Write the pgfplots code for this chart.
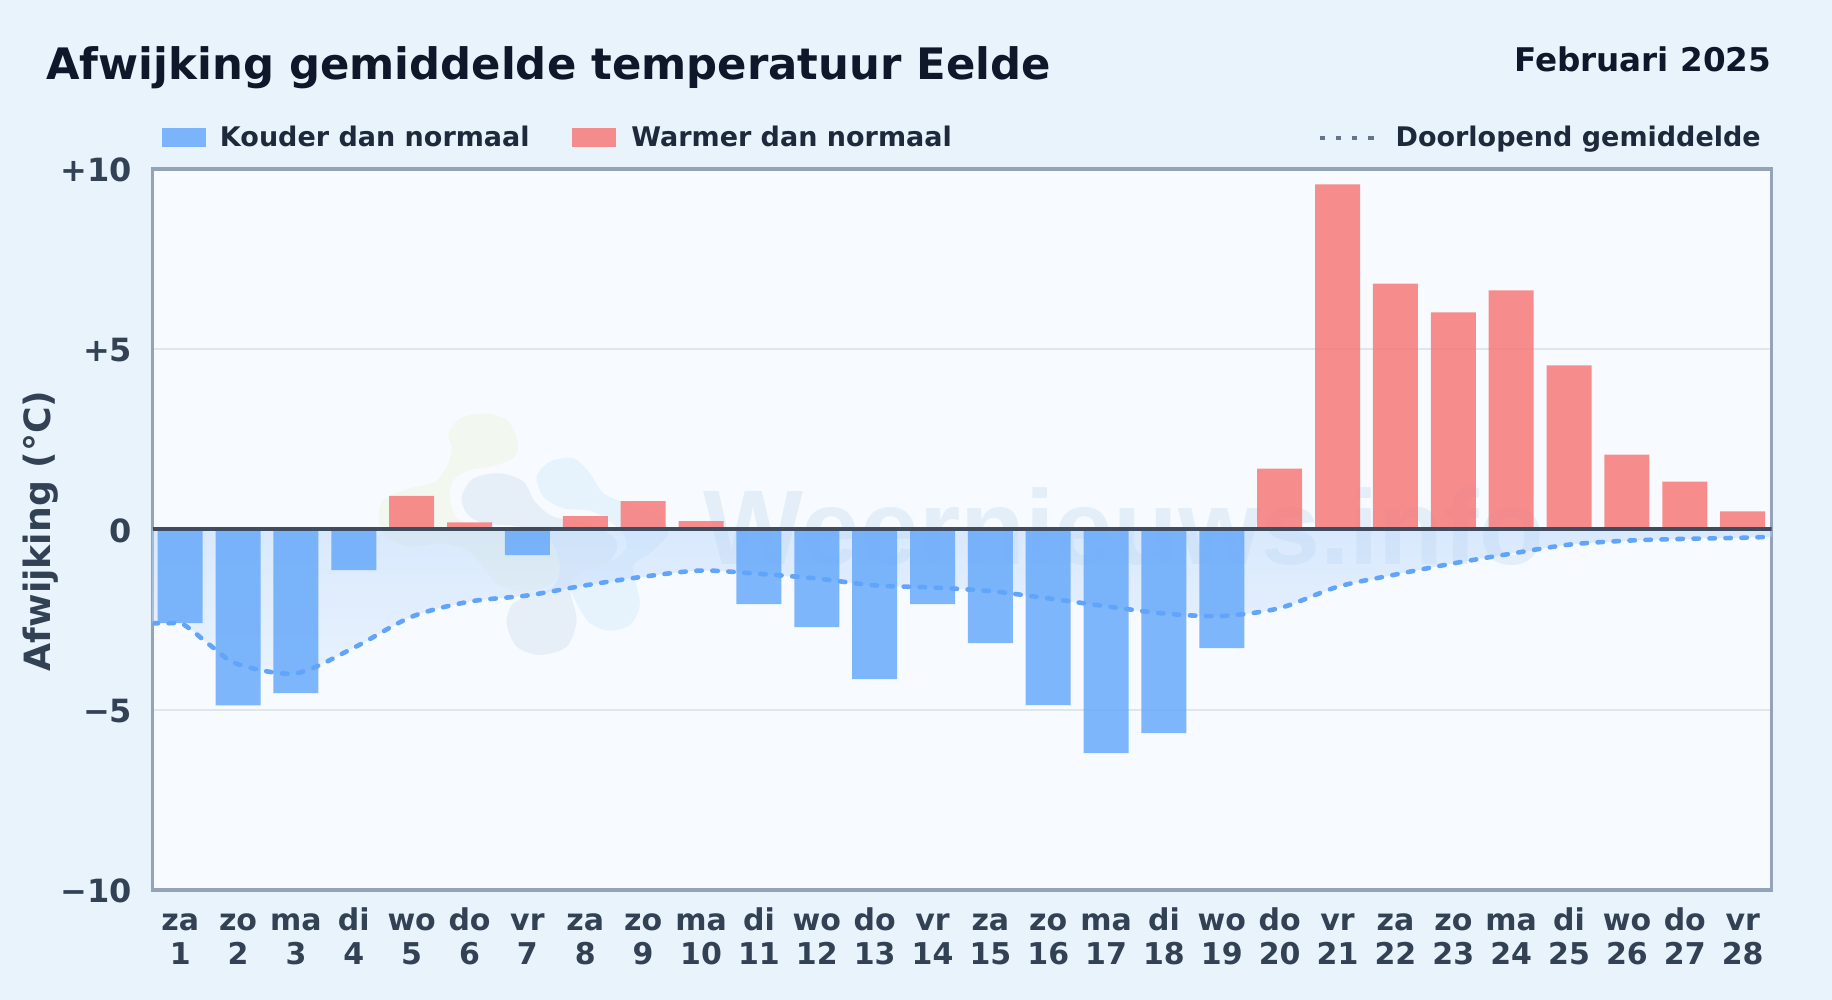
\documentclass[border=0pt]{standalone}
\usepackage{fontspec}
\setmainfont{DejaVu Sans}
\newfontfamily\wmfont{Liberation Sans}
\usepackage{pgfplots}
\pgfplotsset{compat=1.18}
\definecolor{pagebg}{HTML}{E8F3FC}
\definecolor{plotbg}{HTML}{F7FBFF}
\definecolor{frame}{HTML}{94A3B8}
\definecolor{gridc}{HTML}{E0E6EC}
\definecolor{ink}{HTML}{0F172A}
\definecolor{inktwo}{HTML}{1E293B}
\definecolor{slate}{HTML}{334155}
\definecolor{dotgrey}{HTML}{64748B}
\definecolor{coldc}{HTML}{60A5FA}
\definecolor{warmc}{HTML}{F87171}
\definecolor{zeroc}{HTML}{3F4C60}
\definecolor{wmark}{HTML}{E3EEF8}
\definecolor{blobg}{HTML}{F2F8F0}
\definecolor{blobd}{HTML}{E6EFF8}
\definecolor{blobl}{HTML}{E6F3FD}
\definecolor{areatop}{HTML}{B5D4FB}
\definecolor{areabot}{HTML}{D8E8FD}
\newcommand{\fs}[1]{\fontsize{#1}{#1}\selectfont\bfseries}
% day name over day number, first baseline at a fixed height
\newcommand{\tl}[2]{\rule{0pt}{14pt}#1\\\rule{0pt}{14pt}#2}
\begin{document}
\begin{tikzpicture}
  \useasboundingbox (0,0) rectangle (916pt,500pt);
  \fill[pagebg] (0,0) rectangle (916pt,500pt);
  % plot background and the faint logo / watermark, in picture pixels
  \begin{scope}[x=.5pt,y=-.5pt,shift={(0,500pt)}]
    \fill[plotbg] (152.6,169) rectangle (1771.6,890);
    \node[anchor=base west,inner sep=0,text=wmark] at (703,565) {\wmfont\fs{53}Weernieuws.info};
    \node[anchor=base west,inner sep=0,text=ink] at (46,80) {\fs{21.67}Afwijking gemiddelde temperatuur Eelde};
    \node[anchor=base east,inner sep=0,text=ink] at (1771.5,72) {\fs{16.3}Februari 2025};
  \end{scope}
  \begin{scope}[shift={(180pt,305pt)},x=0.16667pt,y=-0.16667pt]
    \fill[blobg] plot[smooth cycle] coordinates {(265,130)(300,85)(370,70)(440,90)(472,150)(465,200)(400,228)(330,240)(280,270)(270,330)(300,390)(400,410)(520,420)(590,470)(610,520)(570,585)(480,605)(410,580)(370,530)(320,480)(240,460)(150,470)(80,440)(55,390)(70,330)(150,295)(225,275)(265,220)(275,170)};
    \fill[blobd] plot[smooth cycle] coordinates {(305,320)(340,265)(420,250)(490,275)(525,335)(580,380)(680,400)(760,440)(770,480)(740,520)(650,560)(630,600)(650,690)(620,770)(540,795)(470,770)(440,700)(460,640)(530,610)(580,590)(600,530)(570,450)(480,410)(370,400)(320,370)};
    \fill[blobl] plot[smooth cycle] coordinates {(530,260)(570,215)(640,205)(690,250)(730,310)(800,340)(900,380)(925,430)(870,490)(820,530)(840,640)(810,705)(750,722)(690,700)(650,640)(630,590)(660,550)(760,510)(800,470)(780,420)(700,365)(610,355)(550,320)};
  \end{scope}
  \begin{axis}[
    at={(76.3pt,55pt)},
    anchor=south west,
    scale only axis,
    width=809.5pt,
    height=360.5pt,
    xmin=0.523,
    xmax=28.5,
    ymin=-10,
    ymax=10,
    axis line style={draw=frame,line width=1.6pt},
    ymajorgrids=true,
    grid style={draw=gridc,line width=0.9pt},
    major tick length=0pt,
    ytick={-10,-5,0,5,10},
    yticklabels={−10,−5,0,+5,+10},
    yticklabel style={font=\fs{16},text=slate,inner sep=0pt,anchor=east,xshift=-10pt,yshift=-0.5pt},
    xtick={1,...,28},
    xticklabels={{\tl{za}{1}},{\tl{zo}{2}},{\tl{ma}{3}},{\tl{di}{4}},{\tl{wo}{5}},{\tl{do}{6}},{\tl{vr}{7}},{\tl{za}{8}},{\tl{zo}{9}},{\tl{ma}{10}},{\tl{di}{11}},{\tl{wo}{12}},{\tl{do}{13}},{\tl{vr}{14}},{\tl{za}{15}},{\tl{zo}{16}},{\tl{ma}{17}},{\tl{di}{18}},{\tl{wo}{19}},{\tl{do}{20}},{\tl{vr}{21}},{\tl{za}{22}},{\tl{zo}{23}},{\tl{ma}{24}},{\tl{di}{25}},{\tl{wo}{26}},{\tl{do}{27}},{\tl{vr}{28}}},
    xticklabel style={font=\fontsize{15}{17}\selectfont\bfseries,text=slate,align=center,inner sep=0pt,yshift=-6pt},
    every axis y label/.style={at={(axis description cs:-0.0693,0.498)},rotate=90,anchor=center},
    ylabel={Afwijking (°C)},
    ylabel style={font=\fs{18.1},text=slate},
    legend columns=3,
    legend style={
      at={(0,1)},anchor=south west,yshift=9.7pt,xshift=4.7pt,
      draw=none,fill=none,inner sep=0pt,outer sep=0pt,
      font=\fs{13.5},text=inktwo,
      nodes={inner sep=0pt,outer sep=0pt},
      /tikz/column 2/.style={column sep=21.3pt},
      /tikz/column 4/.style={column sep=183pt},
      /tikz/column 1/.style={column sep=7pt},
      /tikz/column 3/.style={column sep=7.5pt},
      /tikz/column 5/.style={column sep=8.9pt},
    },
    ]
    % shaded area under the running mean
    \addplot[forget plot,draw=none,smooth,shade,top color=areatop,bottom color=areabot,opacity=0.45] coordinates {
      (0.523,-2.6) (0.8,-2.6) (1,-2.6) (1.18,-2.77) (1.54,-3.24) (2,-3.74) (3,-3.99) (4,-3.28) (5,-2.42) (6,-2.0) (7,-1.83)
      (8,-1.55) (9,-1.31) (10,-1.14) (11,-1.23) (12,-1.36) (13,-1.55) (14,-1.61)
      (15,-1.71) (16,-1.91) (17,-2.13) (18,-2.33) (19,-2.40) (20,-2.18) (21,-1.59)
      (22,-1.25) (23,-0.94) (24,-0.67) (25,-0.42) (26,-0.31) (27,-0.26) (28,-0.23) (28.5,-0.2)
    } \closedcycle;
    % colder days
    \addplot[ybar,bar shift=0pt,bar width=22.5pt,draw=none,fill=coldc,fill opacity=0.8,
      legend image code/.code={\fill[coldc,fill opacity=0.8] (0,-4.75pt) rectangle (22pt,4.75pt);}] coordinates {
      (1,-2.60) (2,-4.88) (3,-4.54) (4,-1.13) (7,-0.71) (11,-2.07) (12,-2.71) (13,-4.15)
      (14,-2.07) (15,-3.15) (16,-4.87) (17,-6.20) (18,-5.65) (19,-3.29)
    };
    \addlegendentry{Kouder dan normaal}
    % warmer days
    \addplot[ybar,bar shift=0pt,bar width=22.5pt,draw=none,fill=warmc,fill opacity=0.8,
      legend image code/.code={\fill[warmc,fill opacity=0.8] (0,-4.75pt) rectangle (22pt,4.75pt);}] coordinates {
      (5,0.93) (6,0.20) (8,0.37) (9,0.79) (10,0.23) (20,1.69) (21,9.57) (22,6.82)
      (23,6.02) (24,6.63) (25,4.55) (26,2.08) (27,1.33) (28,0.50)
    };
    \addlegendentry{Warmer dan normaal}
    % running mean
    \addplot[forget plot,smooth,no markers,coldc,line width=2.3pt,line cap=round,dash pattern=on 2.7pt off 5.3pt] coordinates {
      (0.523,-2.6) (0.8,-2.6) (1,-2.6) (1.18,-2.77) (1.54,-3.24) (2,-3.74) (3,-3.99) (4,-3.28) (5,-2.42) (6,-2.0) (7,-1.83)
      (8,-1.55) (9,-1.31) (10,-1.14) (11,-1.23) (12,-1.36) (13,-1.55) (14,-1.61)
      (15,-1.71) (16,-1.91) (17,-2.13) (18,-2.33) (19,-2.40) (20,-2.18) (21,-1.59)
      (22,-1.25) (23,-0.94) (24,-0.67) (25,-0.42) (26,-0.31) (27,-0.26) (28,-0.23) (28.5,-0.2)
    };
    % zero line
    \addplot[forget plot,no markers,zeroc,line width=2pt] coordinates {(0.523,0) (28.5,0)};
    \addlegendimage{legend image code/.code={\draw[dotgrey,line width=2pt,dash pattern=on 2.6pt off 5.5pt] (0,0) -- (28pt,0);}}
    \addlegendentry{Doorlopend gemiddelde}
  \end{axis}
\end{tikzpicture}
\end{document}
